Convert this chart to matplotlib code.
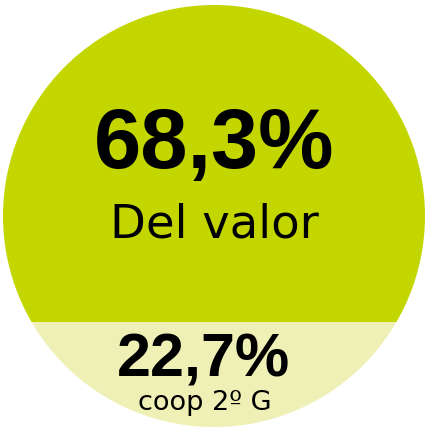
import matplotlib
matplotlib.use("Agg")
import matplotlib.pyplot as plt
import matplotlib.patches as patches

# Data
shares = [68.3, 22.7]
labels = ["Del valor", "coop 2º G"]
colors = ["#c4d600", "#eef0b5"]

W, H = 425, 428
CX, CY, R = 214, 216, 211

fig = plt.figure(figsize=(W / 100, H / 100), dpi=100)
ax = fig.add_axes([0, 0, 1, 1])
ax.set_xlim(0, W)
ax.set_ylim(H, 0)
ax.axis("off")

circle = patches.Circle((CX, CY), R, facecolor="none", edgecolor="none")
ax.add_patch(circle)

# fill levels by height: share of total drawn from the bottom up
total = sum(shares)
top_y = CY - R
heights = [2 * R * s / total for s in shares]
bottoms = [top_y, top_y + heights[0]]
bars = ax.bar([CX, CX], heights, bottom=bottoms, width=2 * R + 4,
              color=colors, linewidth=0)
for b in bars:
    b.set_clip_path(circle)


def fmt(v):
    return f"{v:.1f}".replace(".", ",") + "%"


num_font = "Liberation Sans"
txt_font = "DejaVu Sans"

ax.text(CX, 168, fmt(shares[0]), ha="center", va="baseline",
        fontsize=61, weight="bold", family=num_font, color="black")
ax.text(CX, 237, labels[0], ha="center", va="baseline",
        fontsize=33.5, family=txt_font, color="black")
ax.text(CX - 10, 377, fmt(shares[1]), ha="center", va="baseline",
        fontsize=44, weight="bold", family=num_font, color="black")
ax.text(CX - 9, 410, labels[1], ha="center", va="baseline",
        fontsize=19.5, family=txt_font, color="black")

fig.savefig("out.png", dpi=100, facecolor="white")
